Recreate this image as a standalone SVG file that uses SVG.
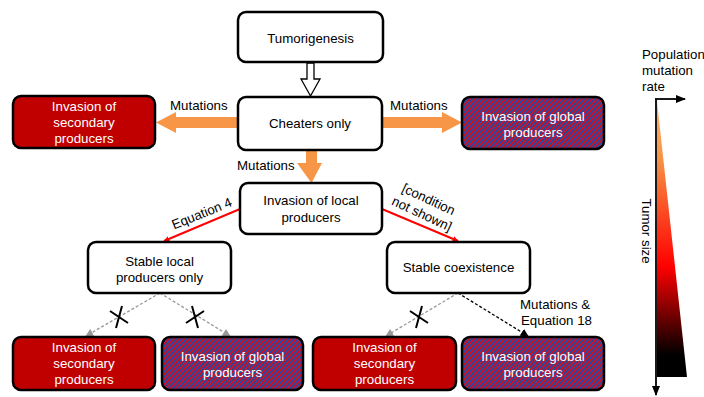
<svg xmlns="http://www.w3.org/2000/svg" width="704" height="397" viewBox="0 0 704 397">
<defs>
<style>
.box{fill:#fff;stroke:#000;stroke-width:2.5}
.red{fill:#c00000;stroke:#000;stroke-width:2.5}
.hat{fill:url(#hatch);stroke:#000;stroke-width:2.5}
text{font-family:"Liberation Sans",Arial,sans-serif;font-size:13.3px;fill:#000}
.c{text-anchor:middle}
.w{fill:#fff}
.orange{fill:#f79646}
.redline{stroke:#ff0000;stroke-width:2;fill:none}
.gdash{stroke:#999;stroke-width:1.3;stroke-dasharray:3,2;fill:none}
.kdash{stroke:#000;stroke-width:1.3;stroke-dasharray:3,2;fill:none}
.xm{stroke:#000;stroke-width:2;fill:none}
</style>
<pattern id="hatch" patternUnits="userSpaceOnUse" width="3.6" height="3.6" patternTransform="rotate(45)">
<rect x="0" y="0" width="3.6" height="3.6" fill="#d0101e"/>
<rect x="0" y="0" width="1.8" height="3.6" fill="#2448a8"/>
</pattern>
<marker id="arR" viewBox="0 0 10 10" refX="9" refY="5" markerWidth="6" markerHeight="6" orient="auto" markerUnits="userSpaceOnUse">
<path d="M0,0 L10,5 L0,10 z" fill="#ff0000"/>
</marker>
<marker id="arG" viewBox="0 0 10 10" refX="9" refY="5" markerWidth="8" markerHeight="8" orient="auto" markerUnits="userSpaceOnUse">
<path d="M0,0 L10,5 L0,10 z" fill="#999"/>
</marker>
<marker id="arK" viewBox="0 0 10 10" refX="9" refY="5" markerWidth="8" markerHeight="8" orient="auto" markerUnits="userSpaceOnUse">
<path d="M0,0 L10,5 L0,10 z" fill="#000"/>
</marker>
<marker id="arA" viewBox="0 0 10 10" refX="9" refY="5" markerWidth="10" markerHeight="10" orient="auto" markerUnits="userSpaceOnUse">
<path d="M0,1 L10,5 L0,9 z" fill="#000"/>
</marker>
<linearGradient id="grad" x1="0" y1="101" x2="0" y2="377" gradientUnits="userSpaceOnUse">
<stop offset="0" stop-color="#fbb070"/>
<stop offset="0.2" stop-color="#f79646"/>
<stop offset="0.6" stop-color="#ff0000"/>
<stop offset="0.92" stop-color="#000"/>
<stop offset="1" stop-color="#000"/>
</linearGradient>
</defs>

<g id="connectors">
<polygon points="307,63 314,63 314,79 320,79 310.5,96 301,79 307,79" fill="#fff" stroke="#000" stroke-width="1.3"/>
<polygon class="orange" points="238,117 176,117 176,112 156,122.5 176,133 176,128 238,128"/>
<polygon class="orange" points="382,117 442,117 442,112 462,122.5 442,133 442,128 382,128"/>
<polygon class="orange" points="306,150 317,150 317,163 322,163 311.5,183 297,163 306,163"/>
<line class="redline" x1="240" y1="209" x2="164" y2="241" marker-end="url(#arR)"/>
<line class="redline" x1="382" y1="209" x2="458" y2="241" marker-end="url(#arR)"/>
<line class="gdash" x1="160" y1="293" x2="86" y2="336" marker-end="url(#arG)"/>
<line class="gdash" x1="160" y1="293" x2="230" y2="336" marker-end="url(#arG)"/>
<line class="gdash" x1="458" y1="293" x2="386" y2="336" marker-end="url(#arG)"/>
<line class="kdash" x1="458" y1="293" x2="528" y2="336" marker-end="url(#arK)"/>
<path class="xm" d="M110,311 L128,323 M122,306 L116,328"/>
<path class="xm" d="M186,323 L204,311 M192,306 L198,328"/>
<path class="xm" d="M410,311 L428,323 M422,306 L416,328"/>
<text x="170" y="110">Mutations</text>
<text x="390" y="110">Mutations</text>
<text x="237" y="170">Mutations</text>
<text class="c" transform="translate(202,214) rotate(-22)" y="4">Equation 4</text>
<text class="c" transform="translate(425,207) rotate(25)"><tspan x="0" y="-4">[condition</tspan><tspan x="0" y="12">not shown]</tspan></text>
<text x="520" y="309">Mutations &amp;</text>
<text x="521" y="325">Equation 18</text>
</g>

<g id="n-tumorigenesis"><rect class="box" x="238" y="12" width="145" height="50" rx="8"/><text class="c" x="310.5" y="43">Tumorigenesis</text></g>
<g id="n-cheaters"><rect class="box" x="238" y="97" width="144" height="53" rx="8"/><text class="c" x="310" y="128">Cheaters only</text></g>
<g id="n-secondary-top"><rect class="red" x="13" y="96" width="142" height="52" rx="8"/><text class="c w" x="84" y="111">Invasion of</text><text class="c w" x="84" y="127">secondary</text><text class="c w" x="84" y="143">producers</text></g>
<g id="n-global-top"><rect class="hat" x="462" y="97" width="142" height="52" rx="8"/><text class="c w" x="533" y="121">Invasion of global</text><text class="c w" x="533" y="137">producers</text></g>
<g id="n-local"><rect class="box" x="240" y="183" width="142" height="51" rx="8"/><text class="c" x="311" y="205">Invasion of local</text><text class="c" x="311" y="222">producers</text></g>
<g id="n-stable-local"><rect class="box" x="88" y="242" width="143" height="51" rx="8"/><text class="c" x="159.5" y="266">Stable local</text><text class="c" x="159.5" y="282">producers only</text></g>
<g id="n-coexist"><rect class="box" x="387" y="242" width="143" height="51" rx="8"/><text class="c" x="458.5" y="272">Stable coexistence</text></g>
<g id="n-secondary-bl"><rect class="red" x="13" y="337" width="142" height="53" rx="8"/><text class="c w" x="84" y="352">Invasion of</text><text class="c w" x="84" y="368">secondary</text><text class="c w" x="84" y="384">producers</text></g>
<g id="n-global-bl"><rect class="hat" x="162" y="337" width="141" height="53" rx="8"/><text class="c w" x="232.5" y="361">Invasion of global</text><text class="c w" x="232.5" y="377">producers</text></g>
<g id="n-secondary-br"><rect class="red" x="313" y="337" width="143" height="53" rx="8"/><text class="c w" x="384.5" y="352">Invasion of</text><text class="c w" x="384.5" y="368">secondary</text><text class="c w" x="384.5" y="384">producers</text></g>
<g id="n-global-br"><rect class="hat" x="462" y="337" width="142" height="53" rx="8"/><text class="c w" x="533" y="361">Invasion of global</text><text class="c w" x="533" y="377">producers</text></g>

<g id="legend">
<polygon points="657,101 687,377 657,377" fill="url(#grad)"/>
<line x1="656" y1="99" x2="656" y2="395" stroke="#000" stroke-width="1.8" marker-end="url(#arA)"/>
<line x1="655" y1="99" x2="685" y2="99" stroke="#000" stroke-width="1.8" marker-end="url(#arA)"/>
<text x="642" y="59">Population</text>
<text x="642" y="75">mutation</text>
<text x="642" y="91">rate</text>
<text class="c" transform="translate(642,231) rotate(90)">Tumor size</text>
</g>
</svg>
